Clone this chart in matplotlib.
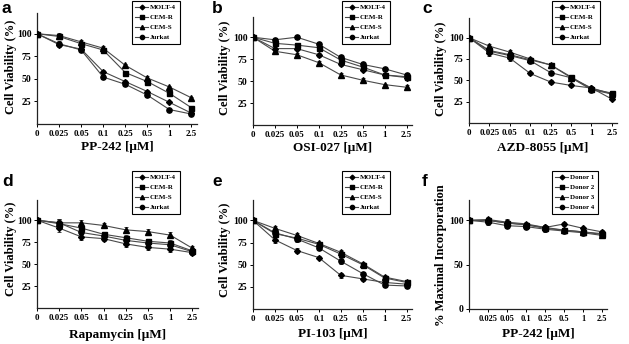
import matplotlib
matplotlib.use('Agg')
from matplotlib import pyplot as plt
from matplotlib.lines import Line2D

plt.rcParams['font.family'] = ['Liberation Serif', 'DejaVu Serif']
plt.rcParams['font.weight'] = 'bold'

doses = ['0', '0.025', '0.05', '0.1', '0.25', '0.5', '1', '2.5']
dose_labels_f = ['', '0.025', '0.05', '0.1', '0.25', '0.5', '1', '2.5']
cell_lines = ['MOLT-4', 'CEM-R', 'CEM-S', 'Jurkat']
donors = ['Donor 1', 'Donor 2', 'Donor 3', 'Donor 4']

# panel a: PP-242
a_molt4 = [100, 88, 83, 58, 47, 36, 24, 12]
a_cemr = [100, 97, 89, 82, 57, 47, 34, 18]
a_cems = [100, 98, 91, 84, 65, 51, 41, 29]
a_jurkat = [100, 89, 82, 52, 44, 32, 16, 11]
a_err = [2, 3, 2, 2, 2, 2, 1, 1]

# panel b: OSI-027
b_molt4 = [100, 87, 87, 80, 69, 63, 57, 54]
b_cemr = [100, 93, 91, 88, 74, 66, 57, 55]
b_cems = [100, 84, 80, 71, 57, 51, 46, 43]
b_jurkat = [100, 97, 100, 92, 77, 69, 64, 57]
b_err = [3, 2, 2, 2, 2, 2, 1, 2]

# panel c: AZD-8055
c_molt4 = [100, 82, 76, 58, 48, 44, 41, 28]
c_cemr = [100, 85, 80, 74, 68, 54, 40, 35]
c_cems = [100, 90, 83, 75, 68, 53, 41, 34]
c_jurkat = [100, 84, 79, 73, 59, 53, 39, 34]
c_err = [2, 3, 3, 2, 2, 2, 2, 1]

# panel d: Rapamycin
d_molt4 = [100, 91, 81, 79, 73, 69, 67, 63]
d_cemr = [100, 96, 91, 84, 80, 76, 74, 65]
d_cems = [100, 97, 97, 94, 89, 87, 83, 68]
d_jurkat = [100, 97, 86, 82, 77, 74, 72, 64]
d_err = [2, 4, 3, 3, 3, 3, 3, 3]

# panel e: PI-103
e_molt4 = [100, 78, 66, 58, 38, 34, 30, 28]
e_cemr = [100, 85, 80, 73, 62, 50, 35, 30]
e_cems = [100, 91, 83, 74, 64, 51, 36, 31]
e_jurkat = [100, 86, 79, 69, 54, 40, 27, 26]
e_err = [3, 3, 3, 2, 3, 2, 2, 2]

# panel f: PP-242 on donors
f_d1 = [100, 100, 97, 95, 92, 96, 91, 87]
f_d2 = [100, 100, 97, 95, 91, 89, 87, 85]
f_d3 = [100, 101, 98, 96, 92, 89, 87, 84]
f_d4 = [100, 98, 94, 93, 90, 88, 86, 83]
f_err = [3, 3, 3, 2, 3, 2, 2, 2]

markers = ['D', 's', '^', 'o']
msizes = [3, 3.6, 3.8, 3.8]

W, H = 629, 344
fig = plt.figure(figsize=(6.29, 3.44), dpi=100)

# letter, series, labels, err, xlabel, ylabel, (left, bottom, right, top px),
# legend px, ylabel right px, ylabel centre px, xlabel top px
panels = [
    ('a', [a_molt4, a_cemr, a_cems, a_jurkat], cell_lines, a_err, 'PP-242 [\u03bcM]', 'Cell Viability (%)',
     (37, 124, 197, 13), (132, 1), 17, 67, 141),
    ('b', [b_molt4, b_cemr, b_cems, b_jurkat], cell_lines, b_err, 'OSI-027 [\u03bcM]', 'Cell Viability (%)',
     (253, 125, 412, 17), (342, 1), 231, 68, 142),
    ('c', [c_molt4, c_cemr, c_cems, c_jurkat], cell_lines, c_err, 'AZD-8055 [\u03bcM]', 'Cell Viability (%)',
     (469, 123, 617, 18), (552, 1), 447, 69, 142),
    ('d', [d_molt4, d_cemr, d_cems, d_jurkat], cell_lines, d_err, 'Rapamycin [\u03bcM]', 'Cell Viability (%)',
     (37, 308, 198, 200), (132, 171), 17, 249, 329),
    ('e', [e_molt4, e_cemr, e_cems, e_jurkat], cell_lines, e_err, 'PI-103 [\u03bcM]', 'Cell Viability (%)',
     (253, 309, 412, 200), (342, 171), 231, 250, 328),
    ('f', [f_d1, f_d2, f_d3, f_d4], donors, f_err, 'PP-242 [\u03bcM]', '% Maximal Incorporation',
     (469, 309, 607, 200), (552, 171), 447, 255, 328),
]

for letter, series, labels, err, xlab, ylab, box, legpos, ylx, yly, xlt in panels:
    l, b, r, t = box
    ax = fig.add_axes([l / W, 1 - b / H, (r - l) / W, (b - t) / H])
    x = list(range(len(doses)))
    for s, m, ms in zip(series, markers, msizes):
        ax.errorbar(x, s, yerr=err, fmt='-', color='#4a4a4a', lw=0.8,
                    ecolor='#222222', elinewidth=0.6, capsize=1.5, capthick=0.6, zorder=2)
        ax.plot(x, s, linestyle='none', marker=m, ms=ms, color='black', zorder=3)
    ax.set_xlim(0, 7.25)
    ax.set_ylim(0, 123)
    ax.set_xticks(x)
    if letter == 'f':
        ax.set_xticklabels(dose_labels_f)
        ax.set_yticks([0, 50, 100])
        ax.tick_params(axis='x', labelsize=6)
    else:
        ax.set_xticklabels(doses)
        ax.set_yticks([25, 50, 75, 100])
        ax.tick_params(axis='x', labelsize=6.5)
    for sp in ['top', 'right']:
        ax.spines[sp].set_visible(False)
    for sp in ['left', 'bottom']:
        ax.spines[sp].set_linewidth(0.9)
        ax.spines[sp].set_color('#222222')
    ax.tick_params(axis='both', direction='out', length=2, width=0.7, pad=2.5)
    ax.tick_params(axis='y', labelsize=7, pad=2)
    ax.set_xlabel(xlab, fontsize=9.5, fontweight='bold', va='top')
    ax.xaxis.set_label_coords(0.5, (b - xlt) / (b - t))
    ax.set_ylabel(ylab, fontsize=9, fontweight='bold')
    ax.yaxis.set_label_coords((ylx - l) / (r - l), (b - yly) / (b - t))

    handles = [Line2D([], [], color='#4a4a4a', lw=0.8, marker=m, ms=ms * 0.8,
                      markerfacecolor='black', markeredgecolor='black')
               for m, ms in zip(markers, msizes)]
    leg = fig.legend(handles, labels, loc='upper left',
                     bbox_to_anchor=(legpos[0] / W, 1 - legpos[1] / H),
                     fontsize=5, frameon=True, fancybox=False, framealpha=1,
                     handlelength=1.8, handletextpad=0.3, labelspacing=0.6,
                     borderpad=0.5, borderaxespad=0, numpoints=1)
    leg.get_frame().set_edgecolor('black')
    leg.get_frame().set_linewidth(0.8)

    lx = {'a': 2, 'b': 212, 'c': 422, 'd': 2, 'e': 212, 'f': 422}[letter]
    ly = 1 if letter in 'abc' else 174
    fig.text(lx / W, 1 - ly / H, letter, fontsize=12.5, fontweight='bold',
             family=['Liberation Sans', 'DejaVu Sans'], va='top', ha='left')

plt.savefig('out.png', dpi=100)
